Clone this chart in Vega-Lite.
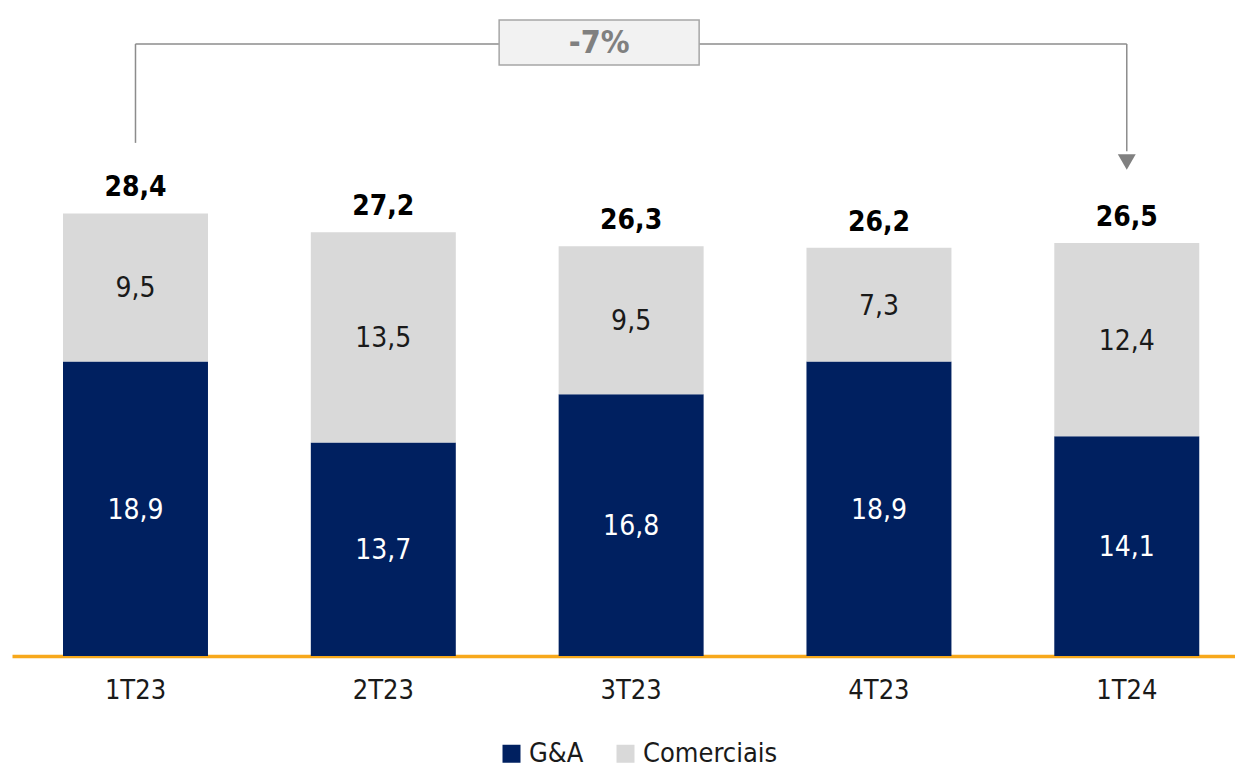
{
  "$schema": "https://vega.github.io/schema/vega-lite/v6.json",
  "width": 1223,
  "height": 656,
  "autosize": {"type": "none"},
  "padding": {"left": 12, "top": 0, "right": 0, "bottom": 114},
  "background": "white",
  "config": {
    "view": {"stroke": null},
    "font": "DejaVu Sans Condensed",
    "axisX": {
      "title": null, "ticks": false, "labelAngle": 0, "labelFontSize": 27, "labelColor": "#1a1a1a",
      "labelPadding": 21, "domainColor": "#F7A81B", "domainWidth": 3.5, "grid": false, "labelFont": "DejaVu Sans Condensed"
    },
    "locale": {"number": {"decimal": ",", "thousands": ".", "grouping": [3], "currency": ["R$", ""]}}
  },
  "datasets": {
    "vals": [
      {"cat": "1T23", "series": "G&A", "value": 18.9},
      {"cat": "1T23", "series": "Comerciais", "value": 9.5},
      {"cat": "2T23", "series": "G&A", "value": 13.7},
      {"cat": "2T23", "series": "Comerciais", "value": 13.5},
      {"cat": "3T23", "series": "G&A", "value": 16.8},
      {"cat": "3T23", "series": "Comerciais", "value": 9.5},
      {"cat": "4T23", "series": "G&A", "value": 18.9},
      {"cat": "4T23", "series": "Comerciais", "value": 7.3},
      {"cat": "1T24", "series": "G&A", "value": 14.1},
      {"cat": "1T24", "series": "Comerciais", "value": 12.4}
    ],
    "totals": [
      {"cat": "1T23", "total": 28.4},
      {"cat": "2T23", "total": 27.2},
      {"cat": "3T23", "total": 26.3},
      {"cat": "4T23", "total": 26.2},
      {"cat": "1T24", "total": 26.5}
    ],
    "bracket": [
      {"cat": "1T23", "cat2": "1T23", "lo": 32.93, "hi": 39.28},
      {"cat": "1T23", "cat2": "1T24", "lo": 39.28, "hi": 39.28},
      {"cat": "1T24", "cat2": "1T24", "lo": 39.28, "hi": 32.4}
    ],
    "arrow": [{"cat": "1T24", "v": 31.7}],
    "change": [{"cat": "3T23", "lo": 37.93, "hi": 40.82, "mid": 39.36, "label": "-7%"}]
  },
  "layer": [
    {
      "data": {"name": "vals"},
      "transform": [
        {"stack": "value", "groupby": ["cat"], "sort": [{"field": "series", "order": "descending"}], "as": ["y0", "y1"]}
      ],
      "mark": {"type": "bar"},
      "encoding": {
        "x": {
          "field": "cat", "type": "nominal",
          "scale": {"domain": ["1T23", "2T23", "3T23", "4T23", "1T24"], "paddingInner": 0.415, "paddingOuter": 0.175, "align": 0.588},
          "axis": {"title": null}
        },
        "y": {
          "field": "y0", "type": "quantitative",
          "scale": {"domain": [0, 42.1], "nice": false, "zero": true},
          "axis": null
        },
        "y2": {"field": "y1"},
        "color": {
          "field": "series", "type": "nominal",
          "scale": {"domain": ["G&A", "Comerciais"], "range": ["#002060", "#D9D9D9"]},
          "legend": {
            "title": null, "orient": "none", "direction": "horizontal",
            "legendX": 486, "legendY": 740,
            "symbolType": "square", "symbolSize": 324, "symbolStrokeWidth": 0,
            "labelFontSize": 27, "labelFont": "DejaVu Sans Condensed", "labelColor": "#1a1a1a",
            "columnPadding": 28, "labelOffset": 4
          }
        }
      }
    },
    {
      "data": {"name": "bracket"},
      "mark": {"type": "rule", "color": "#8C8C8C", "strokeWidth": 1.5},
      "encoding": {
        "x": {"field": "cat", "type": "nominal", "axis": {"title": null}},
        "x2": {"field": "cat2"},
        "y": {"field": "lo", "type": "quantitative", "axis": null},
        "y2": {"field": "hi"}
      }
    },
    {
      "data": {"name": "arrow"},
      "mark": {"type": "point", "shape": "triangle-down", "filled": true, "color": "#808080", "size": 320, "opacity": 1},
      "encoding": {
        "x": {"field": "cat", "type": "nominal", "axis": {"title": null}},
        "y": {"field": "v", "type": "quantitative", "axis": null}
      }
    },
    {
      "data": {"name": "change"},
      "mark": {"type": "bar", "width": 200, "xOffset": -32, "fill": "#F2F2F2", "stroke": "#A6A6A6", "strokeWidth": 1.5},
      "encoding": {
        "x": {"field": "cat", "type": "nominal", "axis": {"title": null}},
        "y": {"field": "lo", "type": "quantitative", "axis": null},
        "y2": {"field": "hi"}
      }
    },
    {
      "data": {"name": "change"},
      "mark": {"type": "text", "dx": -32, "fontSize": 32, "fontWeight": "bold", "color": "#808080", "baseline": "middle"},
      "encoding": {
        "x": {"field": "cat", "type": "nominal", "axis": {"title": null}},
        "y": {"field": "mid", "type": "quantitative", "axis": null},
        "text": {"field": "label"}
      }
    },
    {
      "data": {"name": "vals"},
      "transform": [
        {"stack": "value", "groupby": ["cat"], "sort": [{"field": "series", "order": "descending"}], "as": ["y0", "y1"]},
        {"calculate": "(datum.y0 + datum.y1) / 2", "as": "ymid"}
      ],
      "mark": {"type": "text", "fontSize": 28, "baseline": "middle", "dy": 2},
      "encoding": {
        "x": {"field": "cat", "type": "nominal", "axis": {"title": null}},
        "y": {"field": "ymid", "type": "quantitative", "axis": null},
        "text": {"field": "value", "type": "quantitative", "format": ".1f"},
        "color": {"condition": {"test": "datum.series === 'G&A'", "value": "#FFFFFF"}, "value": "#1a1a1a"}
      }
    },
    {
      "data": {"name": "totals"},
      "mark": {"type": "text", "fontSize": 28, "fontWeight": "bold", "baseline": "middle", "dy": -25, "color": "#000000"},
      "encoding": {
        "x": {"field": "cat", "type": "nominal", "axis": {"title": null}},
        "y": {"field": "total", "type": "quantitative", "axis": null},
        "text": {"field": "total", "type": "quantitative", "format": ".1f"}
      }
    }
  ]
}
